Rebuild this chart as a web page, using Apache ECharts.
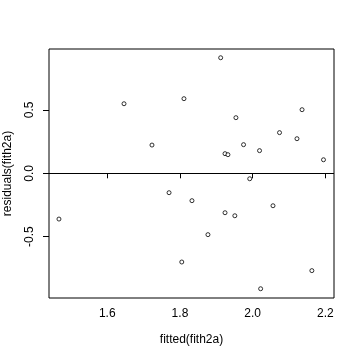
<!DOCTYPE html>
<html>
<head>
<meta charset="utf-8">
<script src="https://cdn.jsdelivr.net/npm/echarts@6/dist/echarts.min.js"></script>
<style>html,body{margin:0;padding:0;background:#fff;}#c{width:360px;height:360px;}</style>
</head>
<body>
<div id="c"></div>
<script>
const fitted = [1.646, 1.723, 1.912, 1.811, 2.136, 1.954, 2.074, 2.122, 1.975, 2.019, 1.924, 1.932, 2.195, 1.992,
  1.467, 1.770, 1.833, 2.056, 1.924, 1.951, 1.877, 1.805, 2.163, 2.022];
const resid = [0.549, 0.223, 0.912, 0.589, 0.502, 0.439, 0.321, 0.273, 0.226, 0.179, 0.155, 0.147, 0.107, -0.043,
  -0.361, -0.153, -0.216, -0.256, -0.311, -0.335, -0.484, -0.700, -0.768, -0.911];
const xTicks = [1.6, 1.8, 2.0, 2.2];
const yTicks = [-0.5, 0.0, 0.5];

const font = 'Liberation Sans';
const chart = echarts.init(document.getElementById('c'), null, {renderer: 'canvas'});
chart.setOption({
  animation: false,
  backgroundColor: '#fff',
  grid: {left: 49, top: 49, right: 26, bottom: 62, containLabel: false, outerBoundsMode: 'none',
    show: true, borderColor: '#000', borderWidth: 1, backgroundColor: 'transparent'},
  xAxis: {
    type: 'value', min: 1.4396, max: 2.2239,
    name: 'fitted(fith2a)', nameLocation: 'middle', nameGap: 36,
    nameTextStyle: {fontFamily: font, fontSize: 12, color: '#000'},
    axisLine: {show: false},
    splitLine: {show: false},
    axisTick: {show: true, inside: false, length: 5, customValues: xTicks, lineStyle: {color: '#000', width: 1}},
    axisLabel: {show: true, margin: 10, customValues: xTicks, fontFamily: font, fontSize: 12, color: '#000',
      formatter: v => v.toFixed(1)}
  },
  yAxis: {
    type: 'value', min: -0.984, max: 0.981,
    name: 'residuals(fith2a)', nameLocation: 'middle', nameGap: 35, nameRotate: 90,
    nameTextStyle: {fontFamily: font, fontSize: 12, color: '#000'},
    axisLine: {show: false},
    splitLine: {show: false},
    axisTick: {show: true, inside: false, length: 6, customValues: yTicks, lineStyle: {color: '#000', width: 1}},
    axisLabel: {show: true, margin: 13, rotate: 90, customValues: yTicks, fontFamily: font, fontSize: 12, color: '#000',
      formatter: v => v.toFixed(1)}
  },
  series: [{
    type: 'scatter',
    data: fitted.map((x, i) => [x, resid[i]]),
    symbol: 'circle', symbolSize: 4,
    itemStyle: {color: '#fff', borderColor: '#000', borderWidth: 1},
    markLine: {
      silent: true, symbol: ['none', 'none'], label: {show: false},
      lineStyle: {color: '#000', type: 'solid', width: 1},
      data: [{yAxis: 0}]
    }
  }]
});
</script>
</body>
</html>
